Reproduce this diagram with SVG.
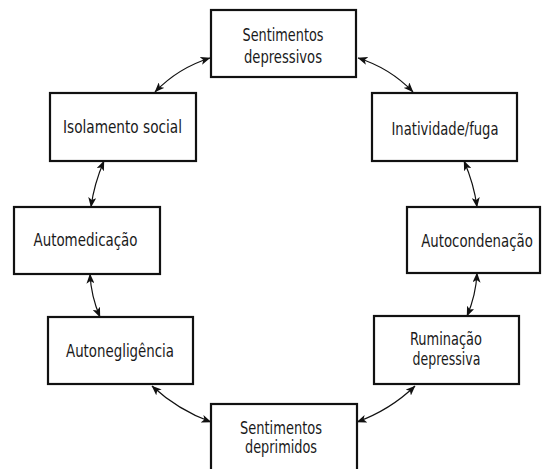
<svg xmlns="http://www.w3.org/2000/svg" width="542" height="469" viewBox="0 0 542 469">
  <style>
    .box { fill: #ffffff; stroke: #111111; stroke-width: 2.2; }
    .lbl { font-family: "DejaVu Sans Condensed", "Liberation Sans", sans-serif; font-size: 17px; fill: #1a1a1a; text-anchor: middle; }
    .link { fill: none; stroke: #111111; stroke-width: 1.2; marker-start: url(#tip); marker-end: url(#tip); }
  </style>
  <defs>
    <marker id="tip" viewBox="0 0 10 8" refX="9.5" refY="4" markerWidth="10" markerHeight="8" markerUnits="userSpaceOnUse" orient="auto-start-reverse">
      <path d="M0,0 L10,4 L0,8 L2.5,4 z" fill="#111111"/>
    </marker>
  </defs>
  <rect width="542" height="469" fill="#ffffff"/>

  <!-- two-way connectors around the cycle -->
  <g id="connectors">
    <path class="link" d="M155,92 Q178,68 210,58"/>
    <path class="link" d="M358,58 Q390,68 413,92"/>
    <path class="link" d="M104,161 Q94,184 91,207"/>
    <path class="link" d="M464,161 Q474,184 477,207"/>
    <path class="link" d="M90,274 Q91,296 100,317"/>
    <path class="link" d="M477,273 Q476,295 467,316"/>
    <path class="link" d="M152,386 Q178,410 211,422"/>
    <path class="link" d="M357,422 Q390,410 415,386"/>
  </g>

  <g id="sentimentos-depressivos">
    <rect class="box" x="211" y="10" width="145" height="67"/>
    <text class="lbl" x="283" y="40.5" textLength="81" lengthAdjust="spacingAndGlyphs">Sentimentos</text>
    <text class="lbl" x="283" y="62.5" textLength="78" lengthAdjust="spacingAndGlyphs">depressivos</text>
  </g>

  <g id="isolamento-social">
    <rect class="box" x="50" y="93" width="146" height="68"/>
    <text class="lbl" x="122.5" y="133" textLength="119" lengthAdjust="spacingAndGlyphs">Isolamento social</text>
  </g>

  <g id="inatividade-fuga">
    <rect class="box" x="372" y="93" width="145" height="68"/>
    <text class="lbl" x="445" y="135" textLength="107" lengthAdjust="spacingAndGlyphs">Inatividade/fuga</text>
  </g>

  <g id="automedicacao">
    <rect class="box" x="14" y="207" width="146" height="67"/>
    <text class="lbl" x="85.5" y="246" textLength="104" lengthAdjust="spacingAndGlyphs">Automedicação</text>
  </g>

  <g id="autocondenacao">
    <rect class="box" x="407" y="207" width="133" height="66"/>
    <!-- horizontally condensed so the label sits inside the narrow box -->
    <text class="lbl" transform="translate(477,247) scale(0.87,1)" x="0" y="0">Autocondenação</text>
  </g>

  <g id="autonegligencia">
    <rect class="box" x="48" y="317" width="145" height="67"/>
    <text class="lbl" x="120" y="356.5" textLength="108" lengthAdjust="spacingAndGlyphs">Autonegligência</text>
  </g>

  <g id="ruminacao-depressiva">
    <rect class="box" x="374" y="316" width="145" height="68"/>
    <text class="lbl" x="446" y="345" textLength="72" lengthAdjust="spacingAndGlyphs">Ruminação</text>
    <text class="lbl" x="446.5" y="365" textLength="68" lengthAdjust="spacingAndGlyphs">depressiva</text>
  </g>

  <g id="sentimentos-deprimidos">
    <rect class="box" x="211" y="404" width="146" height="70"/>
    <text class="lbl" x="281" y="434" textLength="82" lengthAdjust="spacingAndGlyphs">Sentimentos</text>
    <text class="lbl" x="281" y="453" textLength="72" lengthAdjust="spacingAndGlyphs">deprimidos</text>
  </g>
</svg>
